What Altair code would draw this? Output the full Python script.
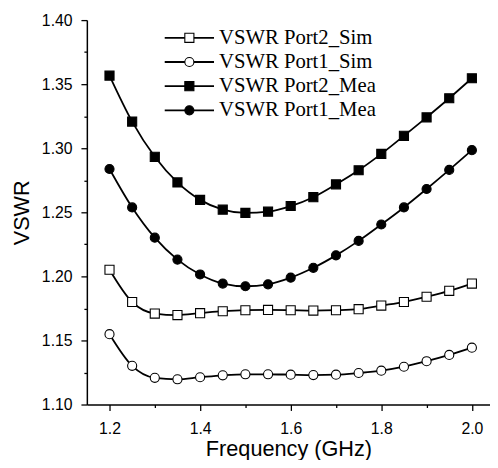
import altair as alt
import pandas as pd

freq = [1.20, 1.25, 1.30, 1.35, 1.40, 1.45, 1.50, 1.55, 1.60, 1.65,
        1.70, 1.75, 1.80, 1.85, 1.90, 1.95, 2.00]

port2_sim = [1.2052, 1.1800, 1.1710, 1.1698, 1.1713, 1.1728, 1.1736, 1.1738, 1.1736,
             1.1733, 1.1736, 1.1744, 1.1772, 1.1800, 1.1841, 1.1887, 1.1944]
port1_sim = [1.1549, 1.1302, 1.1208, 1.1197, 1.1213, 1.1228, 1.1236, 1.1236, 1.1233,
             1.1230, 1.1233, 1.1246, 1.1264, 1.1295, 1.1338, 1.1387, 1.1444]
port2_mea = [1.3567, 1.3208, 1.2933, 1.2733, 1.2597, 1.2521, 1.2495, 1.2505, 1.2549,
             1.2618, 1.2718, 1.2828, 1.2956, 1.3097, 1.3241, 1.3390, 1.3546]
port1_mea = [1.2838, 1.2538, 1.2302, 1.2131, 1.2015, 1.1944, 1.1923, 1.1938, 1.1990,
             1.2067, 1.2164, 1.2277, 1.2405, 1.2538, 1.2682, 1.2831, 1.2985]

series_names = ["VSWR Port2_Sim", "VSWR Port1_Sim", "VSWR Port2_Mea", "VSWR Port1_Mea"]
series_values = [port2_sim, port1_sim, port2_mea, port1_mea]
shapes = ["square", "circle", "square", "circle"]
fills = ["white", "white", "black", "black"]

x_ticks = [1.2, 1.3, 1.4, 1.5, 1.6, 1.7, 1.8, 1.9, 2.0]
y_ticks = [1.100, 1.125, 1.150, 1.175, 1.200, 1.225, 1.250, 1.275,
           1.300, 1.325, 1.350, 1.375, 1.400]

rows = []
for name, vals in zip(series_names, series_values):
    for f, v in zip(freq, vals):
        rows.append({"series": name, "freq": f, "vswr": v})
df = pd.DataFrame(rows)

legend_df = pd.DataFrame({"label": series_names, "idx": list(range(len(series_names)))})

shape_scale = alt.Scale(domain=series_names, range=shapes)
fill_scale = alt.Scale(domain=series_names, range=fills)

x_axis = alt.Axis(
    values=x_ticks,
    labelExpr="round(datum.value*10) % 2 == 0 ? format(datum.value, '.1f') : ''",
    tickSize={"condition": {"test": "round(datum.value*10) % 2 == 0", "value": 6}, "value": 3},
    title="Frequency (GHz)", grid=False, labelOverlap=False, labelFlush=False,
    labelPadding=10, titlePadding=3,
)
y_axis = alt.Axis(
    values=y_ticks,
    labelExpr="round(datum.value*1000) % 50 == 0 ? format(datum.value, '.2f') : ''",
    tickSize={"condition": {"test": "round(datum.value*1000) % 50 == 0", "value": 6}, "value": 3},
    title="VSWR", grid=False, labelOverlap=False, labelPadding=9, titlePadding=8,
)

x_enc = alt.X("freq:Q", scale=alt.Scale(domain=[1.15, 2.04], nice=False, zero=False), axis=x_axis)
y_enc = alt.Y("vswr:Q", scale=alt.Scale(domain=[1.10, 1.40], nice=False, zero=False), axis=y_axis)

lines = alt.Chart(df).mark_line(color="black", strokeWidth=1.8, interpolate="monotone").encode(
    x=x_enc, y=y_enc, detail="series:N"
)
points = alt.Chart(df).mark_point(filled=True, stroke="black", strokeWidth=1.1, size=85, opacity=1).encode(
    x=x_enc, y=y_enc,
    shape=alt.Shape("series:N", scale=shape_scale, legend=None),
    fill=alt.Fill("series:N", scale=fill_scale, legend=None),
)

leg_base = alt.Chart(legend_df).transform_calculate(ly="18 + 24.5*datum.idx")
leg_rule = leg_base.mark_rule(color="black", strokeWidth=1.8).encode(
    x=alt.value(79), x2=alt.value(129), y=alt.Y("ly:Q", scale=None)
)
leg_pts = leg_base.mark_point(filled=True, stroke="black", strokeWidth=1.1, size=85, opacity=1).encode(
    x=alt.value(104), y=alt.Y("ly:Q", scale=None),
    shape=alt.Shape("label:N", scale=shape_scale, legend=None),
    fill=alt.Fill("label:N", scale=fill_scale, legend=None),
)
leg_txt = leg_base.mark_text(align="left", baseline="middle", font="Liberation Serif", fontSize=21, color="black").encode(
    x=alt.value(134), y=alt.Y("ly:Q", scale=None), text="label:N"
)

chart = alt.layer(lines, points, leg_rule, leg_pts, leg_txt).properties(
    width=409, height=390,
    autosize=alt.AutoSizeParams(type="none"),
    padding={"left": 80, "top": 9, "right": 0, "bottom": 53},
).configure_view(stroke=None).configure_axis(
    domainColor="black", domainWidth=1.5, tickColor="black", tickWidth=1.3,
    labelFont="Liberation Sans", labelFontSize=16, labelColor="black",
    titleFont="Liberation Sans", titleFontSize=22, titleColor="black", titleFontWeight="normal",
)

chart.save("out.html", embed_options={"renderer": "svg", "actions": False})
